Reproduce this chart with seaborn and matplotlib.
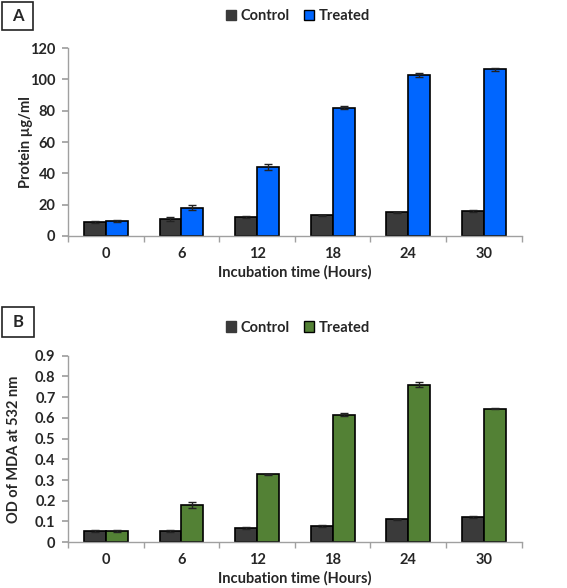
import numpy as np
import pandas as pd
import matplotlib
matplotlib.use("Agg")
import matplotlib.pyplot as plt
import seaborn as sns
from matplotlib.patches import Rectangle, Patch

hours = ["0", "6", "12", "18", "24", "30"]
groups = ["Control", "Treated"]

protein_control = [9.0, 10.5, 12.0, 13.0, 15.0, 15.8]
protein_treated = [9.6, 18.0, 44.0, 82.0, 103.0, 106.5]
protein_control_err = [0.6, 1.2, 0.8, 0.6, 0.5, 0.5]
protein_treated_err = [0.8, 1.5, 1.8, 1.2, 1.2, 0.8]

mda_control = [0.052, 0.055, 0.067, 0.080, 0.110, 0.122]
mda_treated = [0.055, 0.180, 0.328, 0.615, 0.760, 0.645]
mda_control_err = [0.005, 0.004, 0.004, 0.005, 0.004, 0.006]
mda_treated_err = [0.006, 0.014, 0.003, 0.007, 0.012, 0.003]

sns.set_theme(style="white")
plt.rcParams['font.family'] = ['Lato', 'DejaVu Sans']
plt.rcParams['font.weight'] = 'bold'

W, H = 567, 588
fig = plt.figure(figsize=(W / 100, H / 100), dpi=100)

FS = 10.5

def letter_box(label, x0, y0, x1, y1):
    rect = Rectangle((x0 / W, 1 - y1 / H), (x1 - x0) / W, (y1 - y0) / H,
                     transform=fig.transFigure, facecolor="white", edgecolor="#222222",
                     linewidth=1.2, zorder=5)
    fig.patches.append(rect)
    fig.text((x0 + x1) / 2 / W, 1 - (y0 + y1) / 2 / H, label, fontsize=12, fontweight='bold',
             ha="center", va="center", zorder=6)

def panel(rect, ctrl, trt, cerr, terr, color, ylim, yticks, yticklabels, ylabel, ylabel_x, legend_y):
    ax = fig.add_axes(rect)
    df = pd.DataFrame({
        "Hours": hours * 2,
        "Group": [groups[0]] * len(hours) + [groups[1]] * len(hours),
        "Value": list(ctrl) + list(trt),
    })
    sns.barplot(data=df, x="Hours", y="Value", hue="Group", order=hours, hue_order=groups,
                palette={"Control": "#3a3a3a", "Treated": color}, width=0.58, saturation=1,
                errorbar=None, edgecolor="black", linewidth=1.2, ax=ax, legend=False)
    bars = [p for p in ax.patches if isinstance(p, Rectangle) and p.get_height() > 0]
    bars = sorted(bars, key=lambda p: p.get_x())
    errs, vals = [], []
    for i in range(len(hours)):
        errs += [cerr[i], terr[i]]
        vals += [ctrl[i], trt[i]]
    xs = [p.get_x() + p.get_width() / 2 for p in bars]
    ax.errorbar(xs, vals, yerr=errs, fmt="none", ecolor="#222222", elinewidth=1, capsize=3, capthick=1)
    ax.set_ylim(*ylim)
    ax.set_xlim(-0.5, len(hours) - 0.5)
    ax.set_yticks(yticks)
    ax.set_yticklabels(yticklabels, fontsize=FS, fontweight='bold')
    ax.set_xticks(range(len(hours)))
    ax.set_xticklabels(hours, fontsize=FS, fontweight='bold')
    ax.set_xlabel("Incubation time (Hours)", fontsize=FS, fontweight='bold', labelpad=3)
    ax.set_ylabel(ylabel, fontsize=FS, fontweight='bold')
    ax.yaxis.set_label_coords(ylabel_x, 0.5)
    for s in ["top", "right"]:
        ax.spines[s].set_visible(False)
    for s in ["left", "bottom"]:
        ax.spines[s].set_color("#a0a0a0")
        ax.spines[s].set_linewidth(1)
    ax.tick_params(axis="y", which="both", length=4, color="#a0a0a0", direction="out", left=True, pad=5)
    ax.tick_params(axis="x", length=0, pad=8)
    ax.set_xticks(np.arange(-0.5, len(hours), 1.0), minor=True)
    ax.tick_params(axis="x", which="minor", length=4, color="#a0a0a0", direction="out", bottom=True)
    handles = [Patch(facecolor="#3a3a3a", edgecolor="#3a3a3a"),
               Patch(facecolor=color, edgecolor="black")]
    fig.legend(handles, groups, loc="center", bbox_to_anchor=(0.525, legend_y), ncol=2, frameon=False,
               prop={'size': FS, 'weight': 'bold'}, handlelength=0.7, handleheight=0.7,
               handletextpad=0.3, columnspacing=1.0)
    return ax

panel([0.12, 0.599, 0.80, 0.319], protein_control, protein_treated, protein_control_err, protein_treated_err,
      "#0066ff", (0, 120), [0, 20, 40, 60, 80, 100, 120], ["0", "20", "40", "60", "80", "100", "120"],
      "Protein µg/ml", -0.077, 0.972)
panel([0.12, 0.078, 0.80, 0.317], mda_control, mda_treated, mda_control_err, mda_treated_err,
      "#538135", (0, 0.9), [0, 0.1, 0.2, 0.3, 0.4, 0.5, 0.6, 0.7, 0.8, 0.9],
      ["0", "0.1", "0.2", "0.3", "0.4", "0.5", "0.6", "0.7", "0.8", "0.9"],
      "OD of MDA at 532 nm", -0.103, 0.443)

letter_box("A", 2, 2, 33, 30)
letter_box("B", 2, 307, 34, 337)

fig.savefig("out.png", dpi=100, facecolor="white")
